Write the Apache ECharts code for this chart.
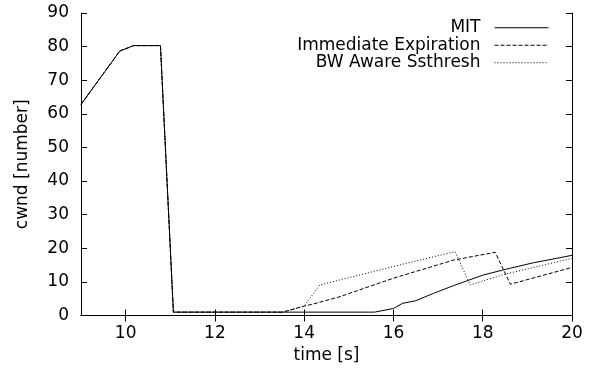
<!DOCTYPE html>
<html><head><meta charset="utf-8">
<script src="https://cdn.jsdelivr.net/npm/echarts@6/dist/echarts.min.js"></script>
<style>html,body{margin:0;padding:0;background:#fff}#c{width:591px;height:374px}</style>
</head><body><div id="c"></div>
<script>
const seriesNames = ['MIT', 'Immediate Expiration', 'BW Aware Ssthresh'];

const mitTime = [9, 9.87, 10.18, 10.78, 11.07, 15.58, 16.0, 16.2, 16.5, 16.9, 17.35, 18.0, 18.5, 19.14, 20];
const mitCwnd = [62.8, 78.7, 80.3, 80.3, 1, 1, 2.1, 3.6, 4.4, 6.6, 8.9, 12.0, 13.7, 15.7, 17.9];

const immTime = [9, 9.87, 10.18, 10.78, 11.07, 13.52, 14.0, 14.2, 14.8, 16.0, 17.35, 18.28, 18.62, 20];
const immCwnd = [62.8, 78.7, 80.3, 80.3, 1, 1, 2.8, 3.4, 5.6, 11.1, 16.5, 18.8, 9.3, 14.3];

const bwTime = [9, 9.87, 10.18, 10.78, 11.07, 13.52, 14.0, 14.35, 16.0, 17.38, 17.72, 18.5, 20];
const bwCwnd = [62.8, 78.7, 80.3, 80.3, 1, 1, 2.8, 9.1, 14.6, 19.0, 9.1, 12.3, 17.0];

const xTicks = [10, 12, 14, 16, 18, 20];

const FONT = 'DejaVu Sans';
const pairs = (xs, ys) => xs.map((x, i) => [x, ys[i]]);
const dashes = ['solid', [4, 2], [1, 2]];
const dataSets = [pairs(mitTime, mitCwnd), pairs(immTime, immCwnd), pairs(bwTime, bwCwnd)];

const black = '#000';
const chart = echarts.init(document.getElementById('c'), null, {renderer: 'canvas'});
chart.setOption({
  animation: false,
  backgroundColor: '#fff',
  grid: {left: 81, right: 19, top: 13, bottom: 58.5, show: false},
  textStyle: {fontFamily: FONT},
  legend: {
    orient: 'vertical', right: 37, top: 14, align: 'right',
    itemWidth: 54, itemHeight: 10, itemGap: 0,
    itemStyle: {opacity: 0},
    lineStyle: {width: 1},
    textStyle: {fontSize: 17, fontFamily: FONT, color: black, lineHeight: 17.5, padding: [0, 9, 0, 0]},
    data: seriesNames
  },
  xAxis: [{
    type: 'value', min: 9, max: 20, position: 'bottom',
    name: 'time [s]', nameLocation: 'middle', nameGap: 31,
    nameTextStyle: {fontSize: 17, fontFamily: FONT, color: black},
    axisLine: {show: true, lineStyle: {color: black, width: 1}},
    axisTick: {show: true, inside: true, length: 6, customValues: xTicks, lineStyle: {color: black}},
    axisLabel: {customValues: xTicks, fontSize: 17, fontFamily: FONT, color: black, margin: 10},
    splitLine: {show: false}
  }, {
    type: 'value', min: 9, max: 20, position: 'top',
    axisLine: {show: true, lineStyle: {color: black, width: 1}},
    axisTick: {show: true, inside: true, length: 6, customValues: xTicks, lineStyle: {color: black}},
    axisLabel: {show: false},
    splitLine: {show: false}
  }],
  yAxis: [{
    type: 'value', min: 0, max: 90, interval: 10, position: 'left',
    name: 'cwnd [number]', nameLocation: 'middle', nameGap: 50,
    nameTextStyle: {fontSize: 17, fontFamily: FONT, color: black},
    axisLine: {show: true, lineStyle: {color: black, width: 1}},
    axisTick: {show: true, inside: true, length: 6, lineStyle: {color: black}},
    axisLabel: {fontSize: 17, fontFamily: FONT, color: black, margin: 12},
    splitLine: {show: false}
  }, {
    type: 'value', min: 0, max: 90, interval: 10, position: 'right',
    axisLine: {show: true, lineStyle: {color: black, width: 1}},
    axisTick: {show: true, inside: true, length: 6, lineStyle: {color: black}},
    axisLabel: {show: false},
    splitLine: {show: false}
  }],
  series: seriesNames.map((n, i) => ({
    name: n, type: 'line', xAxisIndex: 0, yAxisIndex: 0,
    symbol: 'none', data: dataSets[i],
    itemStyle: {color: black},
    lineStyle: {color: black, width: 1, type: dashes[i]},
    z: 3 - i
  }))
});
</script></body></html>
